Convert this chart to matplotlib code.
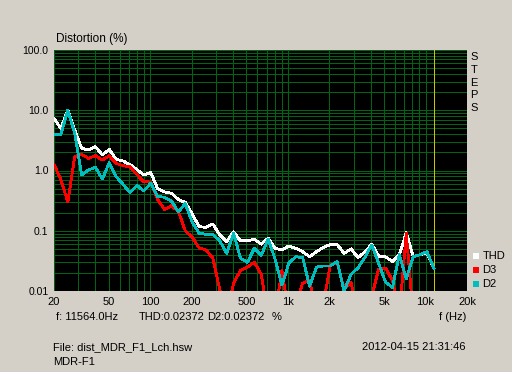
import matplotlib
matplotlib.use("Agg")
import matplotlib.pyplot as plt
from matplotlib.ticker import FixedLocator, NullFormatter
from matplotlib.patches import Rectangle

# ---- data -------------------------------------------------------------
freq_hz = [20, 22.45, 25.20, 28.28, 31.75, 35.64, 40, 44.90, 50.40, 56.57,
           63.50, 71.27, 80, 89.80, 100.8, 113.1, 127.0, 142.5, 160, 179.6,
           201.6, 226.3, 254.0, 285.1, 320, 359.2, 403.2, 452.5, 508.0, 570.2,
           640, 718.4, 806.3, 905.1, 1016, 1140, 1280, 1437, 1613, 1810,
           2032, 2281, 2560, 2874, 3225, 3620, 4064, 4561, 5120, 5747,
           6451, 7241, 8128, 9123, 10240, 11494]

thd = [7.3, 5.0, 10.1, 4.7, 2.33, 2.19, 2.48, 1.81, 2.24, 1.53,
       1.44, 1.25, 1.04, 0.84, 0.93, 0.50, 0.44, 0.42, 0.33, 0.295,
       0.19, 0.117, 0.114, 0.129, 0.085, 0.066, 0.096, 0.068, 0.068, 0.072,
       0.060, 0.075, 0.051, 0.048, 0.056, 0.051, 0.045, 0.037, 0.045, 0.053,
       0.059, 0.059, 0.042, 0.050, 0.036, 0.044, 0.060, 0.038, 0.037, 0.031,
       0.040, 0.093, 0.037, 0.040, 0.043, 0.0237]

d3 = [1.27, 0.70, 0.30, 1.70, 1.85, 1.59, 1.76, 1.49, 1.76, 1.31,
      1.20, 1.15, 0.86, 0.65, 0.645, 0.33, 0.226, 0.26, 0.21, 0.10,
      0.078, 0.052, 0.048, 0.035, 0.0105, 0.004, 0.0134, 0.022, 0.025, 0.030,
      0.019, 0.004, 0.004, 0.022, 0.004, 0.006, 0.0135, 0.015, 0.004, 0.006,
      0.027, 0.029, 0.011, 0.014, 0.004, 0.004, 0.008, 0.023, 0.024, 0.015,
      0.004, 0.091, 0.004, 0.004, 0.004, 0.004]

d2 = [3.98, 3.98, 10.0, 4.1, 0.84, 1.02, 1.13, 0.72, 1.35, 0.79,
      0.59, 0.43, 0.565, 0.46, 0.61, 0.37, 0.36, 0.31, 0.207, 0.28,
      0.14, 0.091, 0.087, 0.087, 0.068, 0.042, 0.090, 0.035, 0.030, 0.051,
      0.039, 0.073, 0.034, 0.0125, 0.029, 0.037, 0.036, 0.012, 0.025, 0.026,
      0.026, 0.031, 0.010, 0.019, 0.024, 0.036, 0.058, 0.029, 0.014, 0.0115,
      0.040, 0.016, 0.037, 0.040, 0.045, 0.0237]

series_names = ["THD", "D3", "D2"]
series_colors = ["#ffffff", "#ff0000", "#00bebe"]

cursor_hz = 11564.0
xtick_vals = [20, 50, 100, 200, 500, 1000, 2000, 5000, 10000, 20000]
xtick_labels = ["20", "50", "100", "200", "500", "1k", "2k", "5k", "10k", "20k"]
ytick_vals = [0.01, 0.1, 1, 10, 100]
ytick_labels = ["0.01", "0.1", "1.0", "10.0", "100.0"]

# ---- figure -----------------------------------------------------------
W, H = 512, 372
BG = "#d4d0c8"
GRID = "#006414"
plt.rcParams["font.family"] = ["Liberation Sans", "DejaVu Sans"]

fig = plt.figure(figsize=(W / 100, H / 100), dpi=100, facecolor=BG)
L, R, T, B = 54, 467, 50, 291
ax = fig.add_axes([L / W, 1 - B / H, (R - L) / W, (B - T) / H])
ax.set_facecolor("black")
ax.set_xscale("log")
ax.set_yscale("log")
ax.set_xlim(20, 20000)
ax.set_ylim(0.01, 100)

# grid
xminor = [m * 10 ** e for e in range(1, 5) for m in range(1, 10) if 20 <= m * 10 ** e <= 20000]
yminor = [m * 10.0 ** e for e in range(-2, 2) for m in range(1, 10)] + [100]
ax.xaxis.set_major_locator(FixedLocator(xtick_vals))
ax.xaxis.set_minor_locator(FixedLocator(xminor))
ax.yaxis.set_major_locator(FixedLocator(ytick_vals))
ax.yaxis.set_minor_locator(FixedLocator(yminor))
ax.xaxis.set_minor_formatter(NullFormatter())
ax.yaxis.set_minor_formatter(NullFormatter())
ax.set_xticklabels(xtick_labels)
ax.set_yticklabels(ytick_labels)
ax.grid(True, which="both", color=GRID, linewidth=0.72, antialiased=False)
ax.set_axisbelow(True)
ax.tick_params(which="both", length=0)
ax.tick_params(axis="x", pad=4, labelsize=8)
ax.tick_params(axis="y", pad=4, labelsize=7.5)
for s in ax.spines.values():
    s.set_visible(False)

# cursor
ax.axvline(cursor_hz, color="#c8c800", linewidth=0.72, antialiased=False, zorder=3)

# series
for vals, name, col in zip([thd, d3, d2], series_names, series_colors):
    ax.plot(freq_hz, vals, color=col, linewidth=1.3, antialiased=False, zorder=4, label=name)


def px(x, y):
    return x / W, 1 - y / H


# texts
fig.text(*px(56, 39), "Distortion (%)", fontsize=8.5, va="center", ha="left")
for k, ch in enumerate("STEPS"):
    fig.text(*px(474, 56.7 + 12.9 * k), ch, fontsize=8, va="center", ha="center")

fig.text(*px(56, 317), "f: 11564.0Hz", fontsize=8, va="center", ha="left")
fig.text(*px(139, 317), "THD:0.02372", fontsize=8, va="center", ha="left")
fig.text(*px(207, 317), "D2:0.02372", fontsize=8, va="center", ha="left")
fig.text(*px(271.5, 317), "%", fontsize=8, va="center", ha="left")
fig.text(*px(466, 317), "f (Hz)", fontsize=8, va="center", ha="right")
fig.text(*px(53, 346.7), "File: dist_MDR_F1_Lch.hsw", fontsize=8, va="center", ha="left")
fig.text(*px(53, 361.7), "MDR-F1", fontsize=8, va="center", ha="left")
fig.text(*px(466, 346.7), "2012-04-15 21:31:46", fontsize=8, va="center", ha="right")

# legend
for k, (name, col) in enumerate(zip(series_names, series_colors)):
    yc = 255.7 + 14 * k
    x0, y0 = px(472.7, yc + 3)
    fig.add_artist(Rectangle((x0, y0), 6 / W, 6 / H, transform=fig.transFigure,
                             facecolor=col, edgecolor="none"))
    fig.text(*px(482.5, yc), name, fontsize=8, va="center", ha="left")

fig.savefig("out.png", dpi=100, facecolor=BG)
